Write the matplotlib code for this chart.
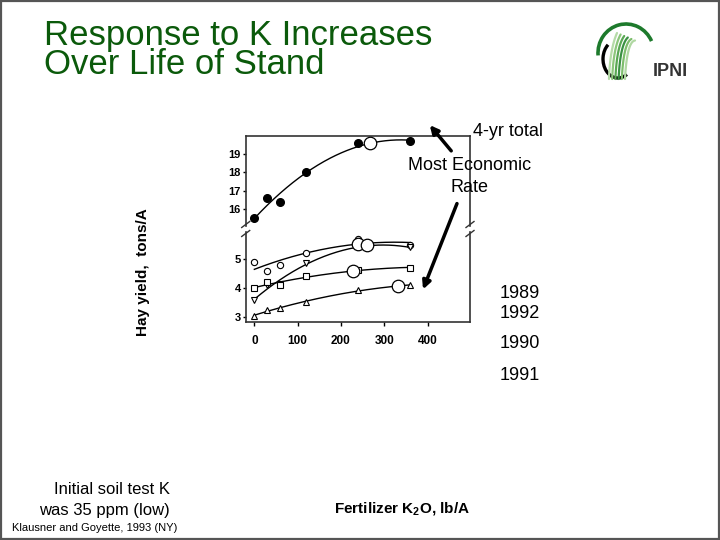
import matplotlib
matplotlib.use('Agg')
import matplotlib.pyplot as plt
import numpy as np
from matplotlib.patches import Arc, FancyArrowPatch, Rectangle
from matplotlib.lines import Line2D

plt.rcParams['font.family'] = ['Liberation Sans', 'DejaVu Sans']

# K2O rates, lb/A
rates = [0, 30, 60, 120, 240, 360]
# hay yield, tons/A
total_4yr = [15.5, 16.6, 16.4, 18.0, 19.58, 19.69]
yr1989 = [4.92, 4.60, 4.81, 5.21, 5.71, 5.51]
yr1992 = [3.58, 4.09, 4.14, 4.88, 5.42, 5.41]
yr1990 = [4.01, 4.19, 4.10, 4.40, 4.62, 4.71]
yr1991 = [3.03, 3.22, 3.31, 3.51, 3.91, 4.10]

# most economic rate points (rate, yield)
mer_4yr = (266, 19.58)
mer_lower_x = [240, 260, 227, 331]
mer_lower_y = [5.53, 5.49, 4.58, 4.07]

W, H = 720, 540
fig = plt.figure(figsize=(7.2, 5.4), dpi=100)


def fx(px):
    return px / W


def fy(py):
    return 1 - py / H


left, right = 245.7, 470
ax_top = fig.add_axes([fx(left), fy(226), fx(right) - fx(left), fy(135.7) - fy(226)])
ax_bot = fig.add_axes([fx(left), fy(322.3), fx(right) - fx(left), fy(232) - fy(322.3)])

xs = np.linspace(0, 360, 200)


def trend(ax, y):
    c = np.polyfit(rates, y, 2)
    ax.plot(xs, np.polyval(c, xs), color='black', lw=1.0, zorder=2)


# upper panel
trend(ax_top, total_4yr)
ax_top.plot(rates, total_4yr, 'o', ms=5.5, color='black', zorder=3)
ax_top.plot(*mer_4yr, 'o', ms=9, mfc='white', mec='black', mew=0.9, zorder=4)

# lower panel
for y, m in [(yr1989, 'o'), (yr1992, 'v'), (yr1990, 's'), (yr1991, '^')]:
    trend(ax_bot, y)
    ax_bot.plot(rates, y, m, ms=4.5, mfc='white', mec='black', mew=0.8, zorder=3)
ax_bot.plot(mer_lower_x, mer_lower_y, 'o', ls='none', ms=9, mfc='white',
            mec='black', mew=0.9, zorder=4)

for ax in (ax_top, ax_bot):
    ax.set_xlim(-20, 498)
    for s in ax.spines.values():
        s.set_color('#333333')
        s.set_linewidth(1.2)
    ax.tick_params(axis='y', length=2, width=1, pad=1.5)

ax_top.set_ylim(15.09, 20.0)
ax_top.set_yticks([16, 17, 18, 19])
ax_top.set_yticklabels(['16', '17', '18', '19'], fontweight='bold', fontsize=8)
ax_top.set_xticks([])
ax_top.spines['bottom'].set_visible(False)

ax_bot.set_ylim(2.80, 5.95)
ax_bot.set_yticks([3, 4, 5])
ax_bot.set_yticklabels(['3', '4', '5'], fontweight='bold', fontsize=8)
ax_bot.set_xticks([0, 100, 200, 300, 400])
ax_bot.set_xticklabels(['0', '100', '200', '300', '400'], fontweight='bold', fontsize=8.5)
ax_bot.tick_params(axis='x', length=3, width=1, pad=6)
ax_bot.spines['top'].set_visible(False)

# break marks
for px in (left, right):
    for py in (224.5, 233.5):
        fig.add_artist(Line2D([fx(px - 4), fx(px + 4)], [fy(py + 3), fy(py - 3)],
                              color='#333333', lw=1.0))

# slide border
fig.add_artist(Rectangle((0.001, 0.001), 0.997, 0.997, transform=fig.transFigure,
                         fill=False, ec='#555555', lw=1.6))

# title
green = '#0b5a0b'
fig.text(fx(44), fy(19), 'Response to K Increases\nOver Life of Stand', fontsize=25,
         color=green, va='top', linespacing=0.83)

# axis labels
fig.text(fx(143), fy(272), 'Hay yield,  tons/A', rotation=90, fontsize=11,
         fontweight='bold', ha='center', va='center')
fig.text(fx(402), fy(509), r'Fertilizer K$_{\mathregular{2}}$O, lb/A', fontsize=11,
         fontweight='bold', ha='center', va='center')

# annotations
fig.text(fx(473), fy(132), '4-yr total', fontsize=13, va='center')
fig.text(fx(470), fy(165), 'Most Economic', fontsize=13, ha='center', va='center')
fig.text(fx(470), fy(188), 'Rate', fontsize=13, ha='center', va='center')
for lbl, py in [('1989', 293), ('1992', 313), ('1990', 344), ('1991', 375)]:
    fig.text(fx(500), fy(py), lbl, fontsize=13, va='center')

fig.add_artist(FancyArrowPatch((fx(453), fy(153)), (fx(428), fy(123)),
                               transform=fig.transFigure, arrowstyle='-|>',
                               mutation_scale=12, lw=2.5, color='black'))
fig.add_artist(FancyArrowPatch((fx(458), fy(201)), (fx(422), fy(292)),
                               transform=fig.transFigure, arrowstyle='-|>',
                               mutation_scale=12, lw=2.5, color='black'))

fig.text(fx(112), fy(489), 'Initial soil test K', fontsize=12, ha='center', va='center')
fig.text(fx(104), fy(510), 'was 35 ppm (low)', fontsize=12, ha='center', va='center')
fig.text(fx(12), fy(528), 'Klausner and Goyette, 1993 (NY)', fontsize=8, va='center')

# IPNI logo
lg = fig.add_axes([fx(590), fy(85), fx(110), fy(0) - fy(70)])
lg.set_xlim(0, 110)
lg.set_ylim(70, 0)
lg.axis('off')
lg.add_patch(Arc((36, 38), 56, 58, theta1=175, theta2=335, color='#1d7a2c', lw=2.6))
lg.add_patch(Arc((28, 44), 30, 38, theta1=60, theta2=235, color='black', lw=2.4))
leaf_greens = ['#b5dba8', '#8cc67c', '#5aa854', '#3a9142', '#7dbd6c', '#b0d8a2']
for i, g in enumerate(leaf_greens):
    t = np.linspace(0, 1, 30)
    x0, y0 = 19 + i * 3.2, 64
    x1, y1 = 20 + i * 3.4, 34 - i * 1.5
    x2, y2 = 27 + i * 3.6, 18 + i * 1.5
    bx = (1 - t) ** 2 * x0 + 2 * (1 - t) * t * x1 + t ** 2 * x2
    by = (1 - t) ** 2 * y0 + 2 * (1 - t) * t * y1 + t ** 2 * y2
    lg.plot(bx, by, color=g, lw=1.6, solid_capstyle='round')
lg.text(80, 56, 'IPNI', fontsize=13, fontweight='bold', color='#333333',
        ha='center', va='center')

fig.savefig('out.png', dpi=100)
